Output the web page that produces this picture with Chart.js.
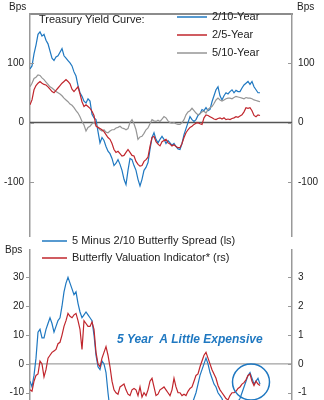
<!DOCTYPE html>
<html><head><meta charset="utf-8">
<script src="https://cdn.jsdelivr.net/npm/chart.js@4"></script>
<style>
html,body{margin:0;padding:0;background:#fff;overflow:hidden;width:324px;height:400px;}
#frame{position:absolute;left:29px;top:13px;width:264px;height:2px;background:#8c8c8c;}
#c1{position:absolute;left:0;top:0;}
#c2{position:absolute;left:0;top:236px;}
</style></head><body>
<div id="frame"></div>
<canvas id="c1" width="324" height="248"></canvas>
<canvas id="c2" width="324" height="199"></canvas>
<script>
// ---- DATA (one point every period) ----
const topSeriesNames = ['2/10-Year', '2/5-Year', '5/10-Year'];
const topTicks = [-100, 0, 100];
const spread210 = [90,95,115,130,148,152,145,148,138,132,
 120,108,104,110,112,118,124,112,108,104,
 100,95,85,78,62,50,44,36,33,40,
 36,14,8,5,-15,-34,-25,-30,-40,-48,
 -52,-60,-72,-68,-62,-70,-80,-95,-104,-80,
 -60,-62,-72,-80,-95,-106,-95,-80,-75,-67,
 -45,-25,-17,-28,-34,-28,-23,-28,-35,-30,
 -34,-38,-35,-40,-44,-45,-35,-20,-10,0,
 10,5,2,5,12,15,22,20,25,20,
 22,35,45,55,60,45,38,45,50,48,
 52,55,50,54,52,52,58,63,66,69,
 64,69,60,55,50,50];
const spread25 = [30,38,55,62,66,69,66,64,63,60,
 56,52,50,54,58,62,66,69,72,69,
 65,56,52,56,60,48,35,27,30,27,
 24,19,12,-6,-8,-10,-12,-15,-20,-25,
 -28,-35,-45,-50,-48,-52,-56,-55,-50,-45,
 -50,-55,-56,-65,-70,-73,-72,-65,-62,-58,
 -40,-25,-23,-32,-36,-39,-32,-30,-28,-34,
 -36,-39,-37,-40,-42,-42,-35,-25,-17,-12,
 -8,-6,-3,-1,0,-2,-3,8,13,12,
 10,8,6,5,7,8,6,8,5,6,
 5,7,8,10,9,11,13,18,25,24,
 25,20,12,10,13,12];
const spread510 = [60,66,74,76,80,79,75,72,68,64,
 60,58,55,52,50,48,45,41,38,35,
 31,29,25,20,16,10,2,-4,-14,-8,
 -6,-2,0,-4,-8,-12,-14,-12,-16,-17,
 -14,-12,-12,-9,-8,-6,-9,-10,-12,-10,
 0,5,-2,-12,-28,-24,-23,-18,-12,-9,
 -2,5,3,2,4,2,6,10,8,3,
 0,-1,0,-2,-3,-3,0,5,13,18,
 20,24,20,16,13,15,18,19,16,22,
 25,27,32,38,41,38,36,38,40,41,
 41,40,42,44,43,42,41,40,42,41,
 41,40,38,37,36,35];

const botSeriesNames = ['5 Minus 2/10 Butterfly Spread (ls)', 'Butterfly Valuation Indicator* (rs)'];
const botLeftTicks = [-10, 0, 10, 20, 30];
const botRightTicks = [-1, 0, 1, 2, 3];
const butterflySpread = [-6,-8,-4,2,11,12,9,9,12,14,
 16,14,11,13,15,16,20,25,28,30,
 28,26,24,25,21,18,16,17,18,17,
 16,15,10,3,-1,-2,1,0,-3,-10,
 -16,-20,-22,-24,-23,-25,-24,-26,-25,-23,
 -24,-26,-25,-24,-26,-25,-24,-23,-22,-21,
 -20,-22,-23,-24,-22,-21,-22,-20,-19,-21,
 -22,-20,-19,-21,-22,-21,-18,-17,-16,-15,
 -15,-14,-12,-10,-7,-4,-2,0,2,0,
 -3,-5,-7,-8,-10,-11,-12,-14,-16,-17,
 -16,-15,-15,-14,-13,-12,-10,-8,-6,-4,
 -3,-5,-7,-6,-5,-7];
const valuationIndicator = [-0.9,-0.95,-0.6,-0.4,-0.35,0.1,0.0,-0.45,-0.2,0.2,
 0.3,0.4,0.45,0.5,0.7,0.75,1.0,1.3,1.5,1.75,
 1.65,1.6,1.7,1.75,1.5,1.2,0.5,1.5,1.4,1.3,
 1.3,1.45,1.2,0.4,0.0,-0.1,0.2,0.4,0.6,0.3,
 -0.1,-0.6,-0.9,-1.0,-1.05,-0.8,-0.75,-0.7,-0.9,-1.05,
 -1.1,-0.9,-0.85,-0.9,-1.1,-0.8,-1.15,-1.0,-1.1,-0.9,
 -0.6,-0.5,-0.8,-1.1,-1.05,-0.9,-0.85,-0.8,-0.9,-1.0,
 -1.1,-0.9,-0.5,-0.8,-1.0,-1.0,-1.1,-1.05,-1.1,-0.95,
 -0.85,-0.8,-0.6,-0.4,-0.35,-0.1,0.1,0.3,0.4,0.2,
 0.0,-0.2,-0.35,-0.5,-0.75,-0.9,-1.0,-1.1,-1.2,-1.25,
 -1.1,-1.0,-1.0,-0.95,-0.85,-0.8,-0.7,-0.65,-0.55,-0.4,
 -0.35,-0.6,-0.75,-0.6,-0.7,-0.75];
const xMaxPeriods = 131;

// ---- STYLE ----
const FONT = '"Liberation Sans", Arial, sans-serif';
const BLUE = '#1f78c1', RED = '#c0262d', GRAY = '#969696', AXIS = '#999999', TXT = '#222';
const pts = arr => arr.map((v, i) => ({x: i, y: v}));

function yAxis(pos, min, max, ticks, w) {
  return {
    position: pos, min: min, max: max,
    afterBuildTicks: s => { s.ticks = ticks.map(v => ({value: v})); },
    afterFit: s => { s.width = w; },
    grid: {display: true, drawOnChartArea: false, drawTicks: false},
    border: {display: true, color: AXIS, width: 1.5},
    ticks: {padding: 6, color: TXT, font: {family: FONT, size: 10}}
  };
}

function drawTickMarks(ctx, chart, leftInside) {
  ctx.save();
  ctx.strokeStyle = AXIS; ctx.lineWidth = 1;
  const L = chart.scales.y, R = chart.scales.y2;
  L.ticks.forEach(t => {
    const y = Math.round(L.getPixelForValue(t.value)) + 0.5;
    ctx.beginPath();
    if (leftInside) { ctx.moveTo(L.right, y); ctx.lineTo(L.right + 4, y); }
    else { ctx.moveTo(L.right - 4, y); ctx.lineTo(L.right, y); }
    ctx.stroke();
  });
  R.ticks.forEach(t => {
    const y = Math.round(R.getPixelForValue(t.value)) + 0.5;
    ctx.beginPath(); ctx.moveTo(R.left - 4, y); ctx.lineTo(R.left, y); ctx.stroke();
  });
  ctx.restore();
}

function legendRow(ctx, x1, x2, y, color, label) {
  ctx.strokeStyle = color; ctx.lineWidth = 1.5;
  ctx.beginPath(); ctx.moveTo(x1, y); ctx.lineTo(x2, y); ctx.stroke();
  ctx.fillStyle = TXT; ctx.textAlign = 'left'; ctx.textBaseline = 'middle';
  ctx.fillText(label, x2 + 5, y);
}

const topDecor = {
  id: 'topDecor',
  beforeDatasetsDraw(chart) {
    const ctx = chart.ctx, a = chart.chartArea, y0 = chart.scales.y.getPixelForValue(0);
    ctx.save(); ctx.strokeStyle = '#555'; ctx.lineWidth = 1.5;
    ctx.beginPath(); ctx.moveTo(a.left, y0); ctx.lineTo(a.right, y0); ctx.stroke();
    ctx.restore();
  },
  afterDraw(chart) {
    const ctx = chart.ctx;
    ctx.save();
    drawTickMarks(ctx, chart, true);
    ctx.font = '10px ' + FONT; ctx.fillStyle = TXT; ctx.textBaseline = 'middle';
    ctx.textAlign = 'left'; ctx.fillText('Bps', 9, 7); ctx.fillText('Bps', 297, 7);
    ctx.font = '11px ' + FONT;
    ctx.fillText('Treasury Yield Curve:', 39, 20);
    const cols = [BLUE, RED, GRAY];
    topSeriesNames.forEach((n, i) => legendRow(ctx, 177, 207, 17 + i * 18, cols[i], n));
    ctx.restore();
  }
};

const botDecor = {
  id: 'botDecor',
  beforeDatasetsDraw(chart) {
    const ctx = chart.ctx, a = chart.chartArea, y0 = chart.scales.y.getPixelForValue(0);
    ctx.save(); ctx.strokeStyle = '#8a8a8a'; ctx.lineWidth = 1;
    ctx.beginPath(); ctx.moveTo(a.left, y0); ctx.lineTo(a.right, y0); ctx.stroke();
    ctx.restore();
  },
  afterDraw(chart) {
    const ctx = chart.ctx;
    ctx.save();
    drawTickMarks(ctx, chart, false);
    ctx.font = '10px ' + FONT; ctx.fillStyle = TXT; ctx.textBaseline = 'middle'; ctx.textAlign = 'left';
    ctx.fillText('Bps', 5, 14);
    ctx.font = '11px ' + FONT;
    legendRow(ctx, 42, 67, 5, BLUE, botSeriesNames[0]);
    legendRow(ctx, 42, 67, 22, RED, botSeriesNames[1]);
    ctx.font = 'italic bold 12px ' + FONT; ctx.fillStyle = BLUE;
    ctx.fillText('5 Year  A Little Expensive', 117, 104);
    ctx.strokeStyle = BLUE; ctx.lineWidth = 1.5;
    ctx.beginPath(); ctx.ellipse(251, 146, 18.5, 18, 0, 0, Math.PI * 2); ctx.stroke();
    ctx.restore();
  }
};

const xAxis = {type: 'linear', display: false, min: 0, max: xMaxPeriods};
const common = {
  responsive: false, animation: false,
  plugins: {legend: {display: false}, tooltip: {enabled: false}},
  elements: {point: {radius: 0}, line: {borderWidth: 1.2, tension: 0}}
};

new Chart(document.getElementById('c1'), {
  type: 'line',
  data: {datasets: [
    {label: topSeriesNames[1], data: pts(spread25), borderColor: RED, order: 0},
    {label: topSeriesNames[2], data: pts(spread510), borderColor: GRAY, order: 1},
    {label: topSeriesNames[0], data: pts(spread210), borderColor: BLUE, order: 2}
  ]},
  options: Object.assign({}, common, {
    layout: {padding: {top: 14, bottom: 0, left: 0, right: 0}},
    scales: {
      x: xAxis,
      y: yAxis('left', -190, 182, topTicks, 30),
      y2: yAxis('right', -190, 182, topTicks, 32)
    }
  }),
  plugins: [topDecor]
});

new Chart(document.getElementById('c2'), {
  type: 'line',
  data: {datasets: [
    {label: botSeriesNames[1], data: pts(valuationIndicator), borderColor: RED, yAxisID: 'y2', order: 0},
    {label: botSeriesNames[0], data: pts(butterflySpread), borderColor: BLUE, yAxisID: 'y', order: 1}
  ]},
  options: Object.assign({}, common, {
    layout: {padding: {top: 14, bottom: 0, left: 0, right: 0}},
    scales: {
      x: xAxis,
      y: yAxis('left', -20.5, 39.5, botLeftTicks, 30),
      y2: yAxis('right', -2.05, 3.95, botRightTicks, 32)
    }
  }),
  plugins: [botDecor]
});
</script>
</body></html>
